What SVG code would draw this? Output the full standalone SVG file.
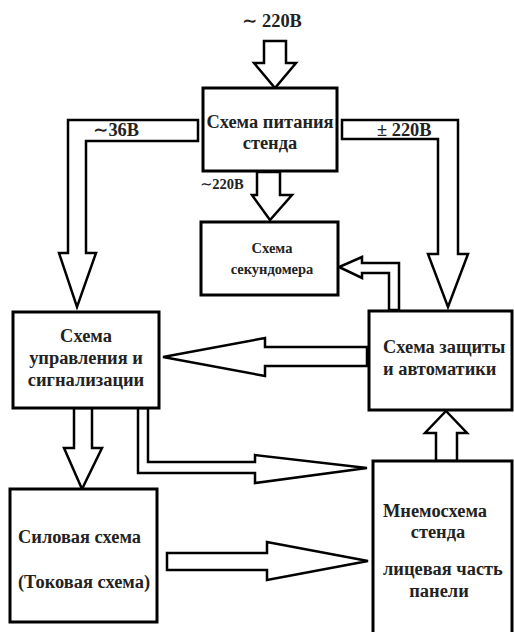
<svg xmlns="http://www.w3.org/2000/svg" width="514" height="632" viewBox="0 0 514 632">
<style>
.box{fill:#fff;stroke:#000;stroke-width:3}
.arr{fill:#fff;stroke:#000;stroke-width:2.5;stroke-linejoin:miter}
text{font-family:'Liberation Serif', 'Times New Roman', 'DejaVu Serif', serif;font-weight:700;fill:#222;font-size:18.4px}
.c{text-anchor:middle}
.s{font-size:14.5px}
</style>
<rect width="514" height="632" fill="#fff"/>
<g id="connectors">
<polygon class="arr" points="264,41 286,41 286,63 296,63 275,88 254,63 264,63"/>
<polygon class="arr" points="257,172 280,172 280,195 292,195 270,220 252,195 257,195"/>
<polygon class="arr" points="198,120 68,120 68,253 59,253 77,307 96,253 86,253 86,141 198,141"/>
<polygon class="arr" points="342,120 458,120 458,254 468,254 448,307 428,254 438,254 438,139 342,139"/>
<polygon class="arr" points="399,310 399,263 362,263 362,257 339,267 362,278 362,273 389,273 389,310"/>
<polygon class="arr" points="367,347 265,347 265,338 163,357 265,376 265,366 367,366"/>
<polygon class="arr" points="74,408 74,448 64,448 82,489 102,448 92,448 92,408"/>
<polygon class="arr" points="138,408 138,473 255,473 255,483 367,468 255,455 255,462 148,462 148,408"/>
<polygon class="arr" points="167,553 267,553 267,542 368,561 267,580 267,570 167,570"/>
<polygon class="arr" points="436,461 436,433 425,433 446,411 467,433 457,433 457,461"/>
<text x="242" y="27" font-family="Liberation Serif">∼ 220В</text>
<text x="93" y="136" font-family="Liberation Serif">∼36В</text>
<text x="377" y="136" font-family="Liberation Serif">± 220В</text>
<text class="s" x="200" y="189" font-family="Liberation Serif">∼220В</text>
</g>
<g id="power">
<rect class="box" x="203" y="88" width="134" height="83"/>
<text class="c" x="270" y="128">Схема питания</text>
<text class="c" x="270" y="149">стенда</text>
</g>
<g id="stopwatch">
<rect class="box" x="201" y="222" width="137" height="73"/>
<text class="c s" x="272" y="253">Схема</text>
<text class="c s" x="272" y="274">секундомера</text>
</g>
<g id="control">
<rect class="box" x="13" y="312" width="146" height="96"/>
<text class="c" x="86" y="342">Схема</text>
<text class="c" x="86" y="364">управления и</text>
<text class="c" x="86" y="386">сигнализации</text>
</g>
<g id="protection">
<rect class="box" x="369" y="311" width="143" height="99"/>
<text x="383" y="353">Схема защиты</text>
<text x="383" y="375">и автоматики</text>
</g>
<g id="power-circuit">
<rect class="box" x="10" y="489" width="147" height="133"/>
<text x="18" y="543">Силовая схема</text>
<text x="18" y="588">(Токовая схема)</text>
</g>
<g id="mnemo">
<rect class="box" x="373" y="461" width="139" height="185"/>
<text x="383" y="517">Мнемосхема</text>
<text class="c" x="438" y="538">стенда</text>
<text x="383" y="575">лицевая часть</text>
<text class="c" x="439" y="597">панели</text>
</g>
</svg>
